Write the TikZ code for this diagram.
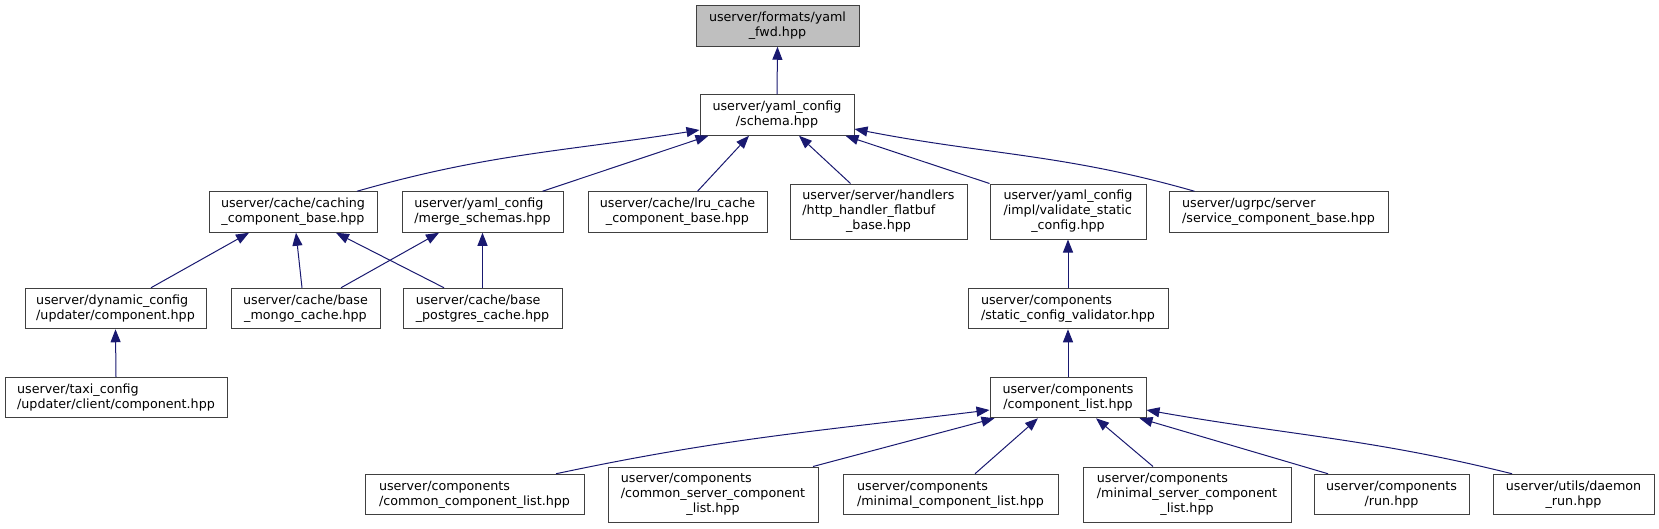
\documentclass[tikz,border=0pt]{standalone}
\usepackage{fontspec}
\setmainfont{DejaVu Sans}
\usepackage{xcolor}
\usepackage{tikz}
\usetikzlibrary{arrows.meta}

\definecolor{edgeblue}{HTML}{191970}
\definecolor{rootgray}{HTML}{BFBFBF}

% label: upper lines left aligned, last line centred
\newcommand{\flbl}[2]{\begin{tabular}{@{}l@{}}#1\\\multicolumn{1}{@{}c@{}}{#2}\end{tabular}}

\tikzset{
  filebox/.style={draw=black!75, line width=1pt, fill=white, inner sep=0pt,
    minimum height=40.5pt, font=\fontsize{12.7}{15}\selectfont},
  tallbox/.style={filebox, minimum height=55pt},
  link/.style={-{Triangle[length=13pt,width=10pt]}, edgeblue, line width=1pt},
}

\begin{document}
\begin{tikzpicture}[x=1pt,y=-1pt]
\useasboundingbox (0,0) rectangle (1659,528);

% top
\node[filebox, fill=rootgray, minimum width=163pt] (fwd) at (777.5,26) {\flbl{userver/formats/yaml}{\_fwd.hpp}};
\node[filebox, minimum width=154pt] (schema) at (777,115) {\flbl{userver/yaml\_config}{/schema.hpp}};

% second row
\node[filebox, minimum width=168pt] (caching) at (293,212) {\flbl{userver/cache/caching}{\_component\_base.hpp}};
\node[filebox, minimum width=161pt] (merge) at (482.5,212) {\flbl{userver/yaml\_config}{/merge\_schemas.hpp}};
\node[filebox, minimum width=179pt] (lru) at (677.5,212) {\flbl{userver/cache/lru\_cache}{\_component\_base.hpp}};
\node[tallbox, minimum width=177pt] (http) at (878.5,211.5) {\flbl{userver/server/handlers\\/http\_handler\_flatbuf}{\_base.hpp}};
\node[tallbox, minimum width=156pt] (validate) at (1068,211.5) {\flbl{userver/yaml\_config\\/impl/validate\_static}{\_config.hpp}};
\node[filebox, minimum width=219pt] (ugrpc) at (1278.5,212) {\flbl{userver/ugrpc/server}{/service\_component\_base.hpp}};

% third row
\node[filebox, minimum width=181pt] (dynamic) at (115.5,308.5) {\flbl{userver/dynamic\_config}{/updater/component.hpp}};
\node[filebox, minimum width=149pt] (mongo) at (305.5,308.5) {\flbl{userver/cache/base}{\_mongo\_cache.hpp}};
\node[filebox, minimum width=159pt] (postgres) at (482.5,308.5) {\flbl{userver/cache/base}{\_postgres\_cache.hpp}};
\node[filebox, minimum width=200pt] (validator) at (1068,308.5) {\flbl{userver/components}{/static\_config\_validator.hpp}};

% fourth row
\node[filebox, minimum width=222pt] (taxi) at (116,397.5) {\flbl{userver/taxi\_config}{/updater/client/component.hpp}};
\node[filebox, minimum width=156pt] (complist) at (1068,397.5) {\flbl{userver/components}{/component\_list.hpp}};

% bottom row
\node[filebox, minimum width=219pt] (common) at (474.5,494.5) {\flbl{userver/components}{/common\_component\_list.hpp}};
\node[tallbox, minimum width=210pt] (commonsrv) at (713,494.5) {\flbl{userver/components\\/common\_server\_component}{\_list.hpp}};
\node[filebox, minimum width=215pt] (minimal) at (950.5,494.5) {\flbl{userver/components}{/minimal\_component\_list.hpp}};
\node[tallbox, minimum width=208pt] (minimalsrv) at (1187,494.5) {\flbl{userver/components\\/minimal\_server\_component}{\_list.hpp}};
\node[filebox, minimum width=155pt] (run) at (1391.5,494.5) {\flbl{userver/components}{/run.hpp}};
\node[filebox, minimum width=161pt] (daemon) at (1573.5,494.5) {\flbl{userver/utils/daemon}{\_run.hpp}};

% edges
\draw[link] (schema.north) -- (fwd.south);
\draw[link] ([xshift=64pt]caching.north) to[out=16,in=189] ([yshift=-15pt]schema.west);
\draw[link] ([xshift=60pt]merge.north) -- ([xshift=9pt]schema.south west);
\draw[link] ([xshift=20pt]lru.north) -- ([xshift=-28pt]schema.south);
\draw[link] ([xshift=-28pt]http.north) -- ([xshift=22pt]schema.south);
\draw[link] (validate.north west) -- ([xshift=-9pt]schema.south east);
\draw[link] ([xshift=-84pt]ugrpc.north) to[out=164,in=-11] ([yshift=-14pt]schema.east);

\draw[link] ([xshift=35.5pt]dynamic.north) -- ([xshift=-44pt]caching.south);
\draw[link] ([xshift=-3.5pt]mongo.north) -- ([xshift=3pt]caching.south);
\draw[link] ([xshift=-38.5pt]postgres.north) -- ([xshift=43pt]caching.south);
\draw[link] ([xshift=35.5pt]mongo.north) -- ([xshift=-43.5pt]merge.south);
\draw[link] (postgres.north) -- (merge.south);
\draw[link] (taxi.north) -- (dynamic.south);
\draw[link] (validator.north) -- (validate.south);
\draw[link] (complist.north) -- (validator.south);

\draw[link] ([xshift=81.5pt]common.north) to[out=12,in=187] ([yshift=-12.5pt]complist.west);
\draw[link] ([xshift=100pt]commonsrv.north) -- ([xshift=5pt]complist.south west);
\draw[link] ([xshift=24.5pt]minimal.north) -- ([xshift=-30pt]complist.south);
\draw[link] ([xshift=-34pt]minimalsrv.north) -- ([xshift=28pt]complist.south);
\draw[link] ([xshift=-63.5pt]run.north) -- ([xshift=-7pt]complist.south east);
\draw[link] ([xshift=-61.5pt]daemon.north) to[out=166,in=-10] ([yshift=-12.5pt]complist.east);
\end{tikzpicture}
\end{document}
